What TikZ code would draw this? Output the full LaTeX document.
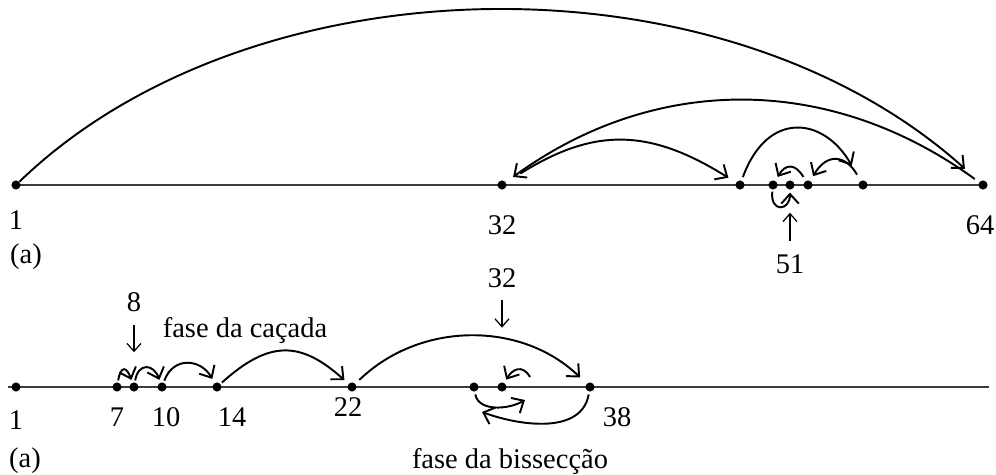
\documentclass[tikz,border=0pt]{standalone}
\usepackage{fontspec}
\setmainfont{Liberation Serif}
\usetikzlibrary{arrows.meta}
\definecolor{figInk}{RGB}{0,0,0}
\definecolor{figLine}{RGB}{60,60,60}

\begin{document}
\begin{tikzpicture}[
  x=0.02cm,
  y=0.02cm,
  font=\fontsize{16.2}{19}\selectfont,
  dot/.style={circle, fill=figInk, inner sep=0pt, minimum size=5.2pt},
  num/.style={inner sep=0pt, text=figInk},
  axis/.style={draw=figLine, line width=1.2pt},
  hop/.style={-{Straight Barb[length=5.5pt,width=10pt]}, draw=figInk, line width=1.1pt},
  pointer/.style={-{Straight Barb[length=4.5pt,width=8pt]}, draw=figInk, line width=0.7pt}
]
\useasboundingbox (0,0) rectangle (996,474);

\coordinate (topL) at (16,289);
\coordinate (topR) at (983,289);
\draw[axis] (topL) -- (topR);

\node[dot] (d1) at (16,289) {};
\node[dot] (d32) at (502,289) {};
\node[dot] (dA) at (740,289) {};
\node[dot] (dB) at (773,289) {};
\node[dot] (d51) at (790,289) {};
\node[dot] (dC) at (808,289) {};
\node[dot] (dD) at (863,289) {};
\node[dot] (d64) at (983,289) {};

\node[num] (t1) at (16,254) {1};
\node[num] (ta) at (26,217) {(a)};
\node[num] (t32) at (502,249) {32};
\node[num] (t64) at (980,249) {64};
\node[num] (t51) at (790,210) {51};

\draw[hop, shorten >=11pt] (d1) .. controls +(234,226) and +(-263,236) .. (d64);
\draw[hop, shorten <=3pt, shorten >=5pt] (d64) to[bend right=36] (d32);
\draw[hop, shorten <=9.5pt, shorten >=5pt] (d32) to[bend left=32, looseness=1.15] (dA);
\draw[hop, shorten <=2pt, shorten >=10pt] (dA) to[out=70, in=120, looseness=1.6] (dD);
\draw[hop, shorten <=4pt, shorten >=3pt] (dD) to[out=120, in=60, looseness=1.6] (dC);
\draw[hop, shorten <=2.5pt, shorten >=2.5pt] (dC) to[out=120, in=60, looseness=1.7] (dB);
\draw[hop, shorten <=1pt, shorten >=1.5pt] (dB) .. controls +(-3,-28) and +(0,-26) .. (d51);
\draw[pointer, shorten <=7.4pt, shorten >=13pt] (t51) -- (d51);

\coordinate (botL) at (8,87);
\coordinate (botR) at (989,87);
\draw[axis] (botL) -- (botR);

\node[dot] (b1) at (16,87) {};
\node[dot] (b7) at (117,87) {};
\node[dot] (b8) at (134,87) {};
\node[dot] (b10) at (162,87) {};
\node[dot] (b14) at (217,87) {};
\node[dot] (b22) at (352,87) {};
\node[dot] (bLo) at (474,87) {};
\node[dot] (bMid) at (502,87) {};
\node[dot] (b38) at (590,87) {};

\node[num] (n1) at (16,54) {1};
\node[num] (na) at (25,13) {(a)};
\node[num] (n7) at (117,57) {7};
\node[num] (n10) at (166,57) {10};
\node[num] (n14) at (232,57) {14};
\node[num] (n22) at (348,67) {22};
\node[num] (n38) at (617,57) {38};
\node[num] (n8) at (134,172) {8};
\node[num] (n32) at (502,196) {32};
\node[num, anchor=base] (hunt) at (245,137) {fase da caçada};
\node[num, anchor=base] (bisect) at (510,6) {fase da bissecção};

\coordinate (cUp) at (525,74);
\coordinate (cBack) at (482,62);
\coordinate (cTurn) at (530,97);

\draw[hop, shorten <=1pt, shorten >=1.5pt] (b7) to[out=80, in=110, looseness=3] (b8);
\draw[hop, shorten <=1pt, shorten >=1.5pt] (b8) to[out=80, in=110, looseness=2] (b10);
\draw[hop, shorten <=1pt, shorten >=2.5pt] (b10) to[out=70, in=120, looseness=1.4] (b14);
\draw[hop, shorten <=1pt, shorten >=3pt] (b14) to[bend left=42, looseness=1.3] (b22);
\draw[hop, shorten <=3pt, shorten >=5pt] (b22) to[bend left=44] (b38);
\draw[hop, shorten <=1.5pt] (bLo) to[out=-80, in=-150] (cUp);
\draw[hop, shorten <=1.5pt] (b38) to[out=-100, in=-20] (cBack);
\draw[hop, shorten >=2pt] (cTurn) to[out=120, in=60, looseness=1.5] (bMid);
\draw[pointer, shorten <=7.4pt, shorten >=17pt] (n8) -- (b8);
\draw[pointer, shorten <=6.8pt, shorten >=31pt] (n32) -- (bMid);
\end{tikzpicture}
\end{document}
